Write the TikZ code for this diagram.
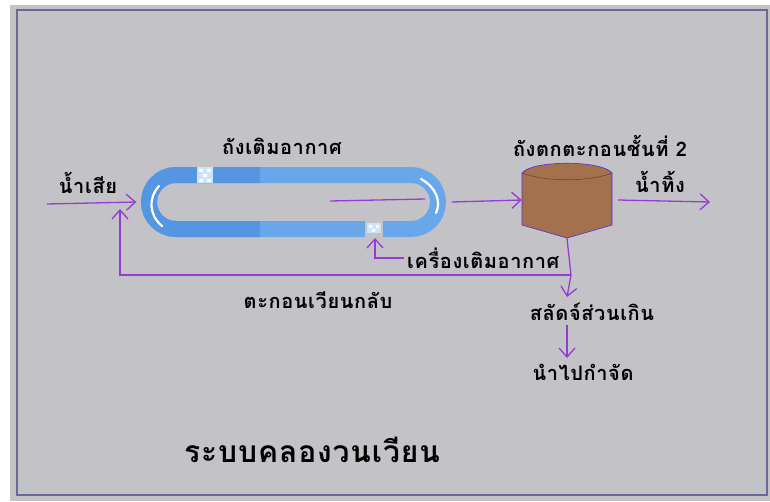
\documentclass[tikz,border=0pt]{standalone}
\usepackage{fontspec}
\usetikzlibrary{arrows.meta}
\newfontfamily\thaifont[Script=Thai, LetterSpace=3]{Loma}

\definecolor{panel}{RGB}{195,195,199}
\definecolor{frameline}{RGB}{105,105,150}
\definecolor{flowline}{RGB}{150,60,210}
\definecolor{tubeblue}{RGB}{104,168,234}
\definecolor{tubedark}{RGB}{84,150,226}
\definecolor{tubelight}{RGB}{205,228,248}
\definecolor{sludge}{RGB}{163,114,76}

\tikzset{
  flow/.style={draw=flowline, line width=1.3pt, -{Straight Barb[length=9pt,width=16pt]}},
  pipe/.style={draw=flowline, line width=1.3pt},
  lbl/.style={font=\thaifont\bfseries\fontsize{20}{22}\selectfont, inner sep=0pt},
  title/.style={font=\thaifont\bfseries\fontsize{30}{34}\selectfont, inner sep=0pt},
  hole/.style={inner sep=0pt, minimum width=0pt}
}

\begin{document}
\begin{tikzpicture}[x=1pt,y=-1pt]
% page, panel and frame
\fill[white] (0,0) rectangle (770,501);
\fill[panel] (10,5) rectangle (770,501);
\draw[frameline, line width=1.4pt] (17,10) rectangle (767,495);

% aeration loop
\node (loop) [hole, minimum width=306pt, minimum height=70pt] at (293.5,202) {};
\draw[tubeblue, line width=16pt, rounded corners=27pt] (149,175) rectangle (438,229);
\begin{scope}
  \clip (130,150) rectangle (260,250);
  \draw[tubedark, line width=16pt, rounded corners=27pt] (149,175) rectangle (438,229);
\end{scope}
\draw[white, line width=2.2pt, line cap=round] (159,186) .. controls (148,198) and (149,215) .. (162,226);
\draw[white, line width=2.2pt, line cap=round] (421,179) .. controls (437,188) and (441,202) .. (436,213);
% mixers on the loop
\fill[tubelight] (197,167) rectangle (213,183);
\foreach \p in {(199,169),(207,169),(203,174),(199,179),(207,179)}
  \fill[white] \p rectangle +(4,3);
\fill[panel] (365,220) rectangle (383,238);
\fill[tubelight] (367,223) rectangle (381,233);
\foreach \p in {(369,225),(376,225),(372,229)}
  \fill[white] \p rectangle +(3,3);

% secondary clarifier
\node (tank) [hole, minimum width=90pt, minimum height=76pt] at (567,200) {};
\filldraw[fill=sludge, draw=flowline!60!blue, line width=0.6pt]
  (522,173) .. controls (532,160) and (602,160) .. (612,173)
  -- (612,225) -- (567,238) -- (522,225) -- cycle;
\draw[sludge!65!black, line width=0.6pt] (522,173) .. controls (545,182) and (590,182) .. (612,173);

% labels
\node (tanklbl) [lbl] at (282,146) {ถังเติมอากาศ};
\node (clarlbl) [lbl] at (600,146) {ถังตกตะกอนชั้นที่ 2};
\node (inlbl) [lbl] at (88,183) {น้ำเสีย};
\node (outlbl) [lbl] at (660,182) {น้ำทิ้ง};
\node (air) [lbl, anchor=west] at (407,258) {เครื่องเติมอากาศ};
\node (return) [lbl] at (318,300) {ตะกอนเวียนกลับ};
\node (excess) [lbl] at (592,312) {สลัดจ์ส่วนเกิน};
\node (dispose) [lbl] at (583,372) {นำไปกำจัด};
\node (name) [title] at (312,450) {ระบบคลองวนเวียน};

% flows
\coordinate (inlet) at (47,204);
\coordinate (outlet) at (710,202);
\coordinate (back) at (120,209);
\coordinate (split) at (571,275);
\coordinate (diffuser) at (375,238);
\coordinate (feed) at (330,201);
\coordinate (feedend) at (425,199);

\draw[flow] (inlet) -- ([xshift=-4pt]loop.west);
\draw[pipe] (feed) -- (feedend);
\draw[flow] ([xshift=5pt]loop.east) -- (tank.west);
\draw[flow] ([xshift=6pt]tank.east) -- (outlet);
\draw[flow] ([xshift=-3pt]air.west) -| (diffuser);
\draw[flow] (split) -| (back);
\draw[flow] (tank.south) -- (split) -- (tank.south |- 0,297);
\draw[flow] (tank.south |- 0,325) -- (tank.south |- 0,358);
\end{tikzpicture}
\end{document}
